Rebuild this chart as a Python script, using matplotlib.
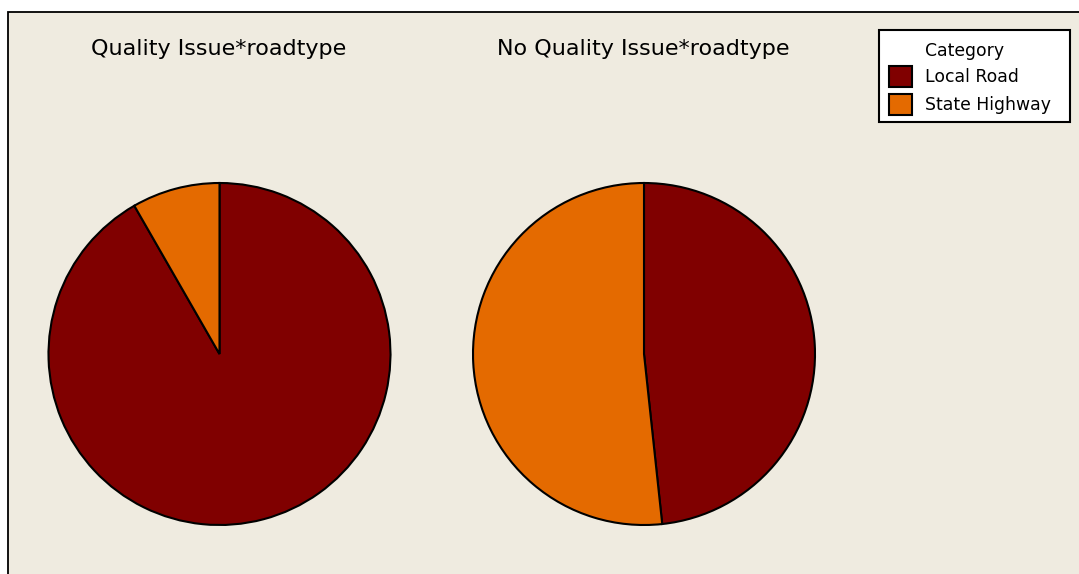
import matplotlib.pyplot as plt
from matplotlib.patches import Rectangle

# Share of road type within each quality group (percent)
categories = ['Local Road', 'State Highway']
quality_issue = [91.7, 8.3]
no_quality_issue = [48.3, 51.7]
titles = ['Quality Issue*roadtype', 'No Quality Issue*roadtype']

colors = ['#800000', '#E46A00']
bg = '#EFEBE0'

W, H = 1079, 574
fig = plt.figure(figsize=(W / 100, H / 100), dpi=100)
fig.patch.set_facecolor('white')
ax = fig.add_axes([0, 0, 1, 1])
ax.set_xlim(0, W)
ax.set_ylim(0, H)
ax.set_aspect('equal')
ax.axis('off')

# panel background with frame on top and left
ax.add_patch(Rectangle((8, -5), W, H - 12 + 5, facecolor=bg, edgecolor='black', lw=1.3, zorder=0))

centers = [(219.5, H - 354), (644, H - 354)]
for vals, (cx, cy), title in zip([quality_issue, no_quality_issue], centers, titles):
    ax.pie(vals, colors=colors, startangle=90, counterclock=False,
           center=(cx, cy), radius=171, frame=True,
           wedgeprops=dict(edgecolor='black', linewidth=1.5))
    ax.text(cx - 1, H - 49, title, ha='center', va='center', fontsize=16, family='DejaVu Sans')

# reset limits after pie
ax.set_xlim(0, W)
ax.set_ylim(0, H)
ax.axis('off')

# legend box
ax.add_patch(Rectangle((879, H - 122), 191, 92, facecolor='white', edgecolor='black', lw=1.5, zorder=3))
ax.text(925, H - 51, 'Category', ha='left', va='center', fontsize=12.4, zorder=4)
for i, (cat, c) in enumerate(zip(categories, colors)):
    y = H - 76.5 - 27.5 * i
    ax.add_patch(Rectangle((889, y - 10.5), 23, 21, facecolor=c, edgecolor='black', lw=1.5, zorder=4))
    ax.text(925, y - 1, cat, ha='left', va='center', fontsize=12.4, zorder=4)

fig.savefig('out.png', dpi=100, facecolor=fig.get_facecolor())
